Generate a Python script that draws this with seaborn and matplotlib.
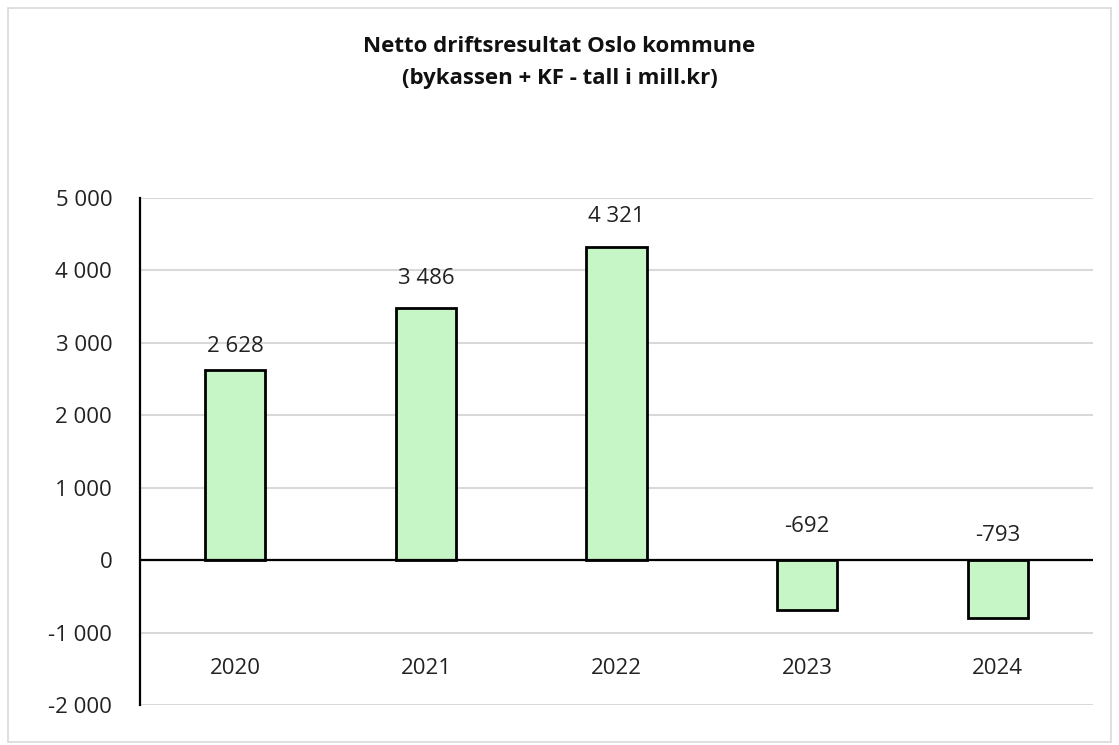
import pandas as pd
import seaborn as sns
import matplotlib.pyplot as plt
from matplotlib.patches import Rectangle

sns.set_style('white')
plt.rcParams['font.family'] = ['Open Sans', 'DejaVu Sans']

years = ['2020', '2021', '2022', '2023', '2024']
values = [2628, 3486, 4321, -692, -793]
y_ticks = [-2000, -1000, 0, 1000, 2000, 3000, 4000, 5000]

df = pd.DataFrame({'year': years, 'value': values})

def fmt(v):
    return '{:,}'.format(v).replace(',', ' ')

fig = plt.figure(figsize=(11.19, 7.45), dpi=100)
ax = fig.add_axes([0.1251, 0.0537, 0.8517, 0.6805])

sns.barplot(x='year', y='value', data=df, color='#c6f5c6', saturation=1,
            width=0.315, edgecolor='black', linewidth=2.0, ax=ax, zorder=3)

ax.set_ylim(-2000, 5000)
ax.set_yticks(y_ticks)
ax.set_yticklabels([fmt(t) for t in y_ticks], fontsize=16, color='#222222')
ax.set_xlim(-0.5, 4.5)
ax.yaxis.grid(True, color='#d9d9d9', linewidth=1.5, zorder=0)
ax.set_axisbelow(True)
ax.axhline(0, color='black', linewidth=1.6, zorder=4)

for s in ['top', 'right', 'bottom']:
    ax.spines[s].set_visible(False)
ax.spines['left'].set_color('black')
ax.spines['left'].set_linewidth(1.6)
ax.tick_params(axis='y', length=0, pad=20)
ax.tick_params(axis='x', length=0)
ax.set_xticks([])
ax.set_xlabel('')
ax.set_ylabel('')

# category labels sit low, like Excel "low" label position
for i, y in enumerate(years):
    ax.text(i, -1500, y, ha='center', va='center', fontsize=16, color='#222222')

# value labels
offsets = [17, 21, 22, 24, 18]
for i, v in enumerate(values):
    base = v if v > 0 else 0
    ax.annotate(fmt(v), (i, base), xytext=(0, offsets[i]), textcoords='offset points',
                ha='center', va='center', fontsize=16, color='#222222')

fig.text(0.5, 0.937, 'Netto driftsresultat Oslo kommune', ha='center', va='center',
         fontsize=16, fontweight='bold', color='#111111')
fig.text(0.5, 0.894, '(bykassen + KF - tall i mill.kr)', ha='center', va='center',
         fontsize=16, fontweight='bold', color='#111111')

fig.patches.append(Rectangle((0.007, 0.004), 0.986, 0.985, transform=fig.transFigure,
                             fill=False, edgecolor='#d9d9d9', linewidth=1.2))

fig.savefig('out.png', dpi=100)
